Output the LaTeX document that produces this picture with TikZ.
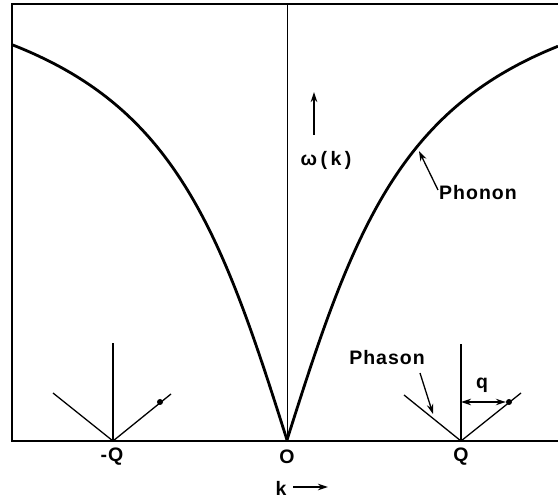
\documentclass[tikz,border=0pt]{standalone}
\usepackage{fontspec}
\setmainfont{Liberation Sans}
\usetikzlibrary{arrows.meta}
\begin{document}
\begin{tikzpicture}[x=1pt,y=-1pt,
  thinline/.style={line width=1.3pt},
  curveline/.style={line width=2.8pt, line join=round},
  lbl/.style={font=\fontsize{19.5}{20}\selectfont\bfseries, inner sep=0pt},
  ptr/.style={line width=1.3pt, -{Stealth[length=10pt,width=6.5pt]}},
  dot/.style={circle, fill=black, inner sep=0pt, minimum size=6pt}]
\useasboundingbox (0,0) rectangle (558,500);
% frame
\coordinate (tl) at (12,4);
\coordinate (tr) at (558,4);
\coordinate (bl) at (12,441);
\coordinate (br) at (558,441);
\coordinate (o) at (287,441);
\coordinate (otop) at (287,4);
\draw[thinline] (tr) -- (tl) -- (bl) -- (br);
\draw[line width=1pt] (o) -- (otop);
% dispersion curve
\draw[curveline] plot[domain=0:271, samples=90, smooth] ({287+\x},{440-5.70*atan(\x/103.6)});
\draw[curveline] plot[domain=0:275, samples=90, smooth] ({287-\x},{440-5.70*atan(\x/103.6)});
% -Q phason
\coordinate (mq) at (113,441);
\coordinate (mqtop) at (113,343);
\coordinate (mql) at (53,393);
\coordinate (mqr) at (171,394);
\draw[thinline] (mq) -- (mqtop);
\draw[thinline] (mql) -- (mq) -- (mqr);
\node[dot] (mqdot) at (160,402) {};
% Q phason
\coordinate (q) at (461,441);
\coordinate (qtop) at (461,344);
\coordinate (ql) at (404,395);
\coordinate (qr) at (521,393);
\draw[thinline] (q) -- (qtop);
\draw[thinline] (ql) -- (q) -- (qr);
\node[dot] (qdot) at (509,402) {};
\coordinate (qa) at (461,402);
\draw[line width=1.3pt, {Stealth[length=10pt,width=6.5pt]}-{Stealth[length=10pt,width=6.5pt]}] (qa) -- (qdot.west);
\node[lbl] (qlbl) at (482,385) {q};
% labels
\node[lbl] (phason) at (387,358) {P\kern1pt h\kern1pt a\kern1pt s\kern1pt o\kern1pt n};
\coordinate (phasontail) at (420,373);
\coordinate (phasontip) at (433,414);
\draw[ptr] (phasontail) -- (phasontip);
\node[lbl] (phonon) at (478,193) {P\kern1pt h\kern1pt o\kern1pt n\kern1pt o\kern1pt n};
\coordinate (phonontail) at (438,190);
\coordinate (phonontip) at (419,151);
\draw[ptr] (phonontail) -- (phonontip);
\coordinate (wtail) at (314,135);
\coordinate (wtip) at (314,92);
\draw[ptr] (wtail) -- (wtip);
\node[lbl] (omega) at (326,160) {ω\kern3.5pt(\kern3.5pt k\kern3.5pt)};
\node[lbl] (mqlbl) at (112,457) {-\kern1pt Q};
\node[lbl] (olbl) at (287,457) {O};
\node[lbl] (qqlbl) at (461,457) {Q};
\node[lbl] (klbl) at (281,488) {k};
\coordinate (ka) at (293,487);
\coordinate (kb) at (328,487);
\draw[ptr] (ka) -- (kb);
\end{tikzpicture}
\end{document}
